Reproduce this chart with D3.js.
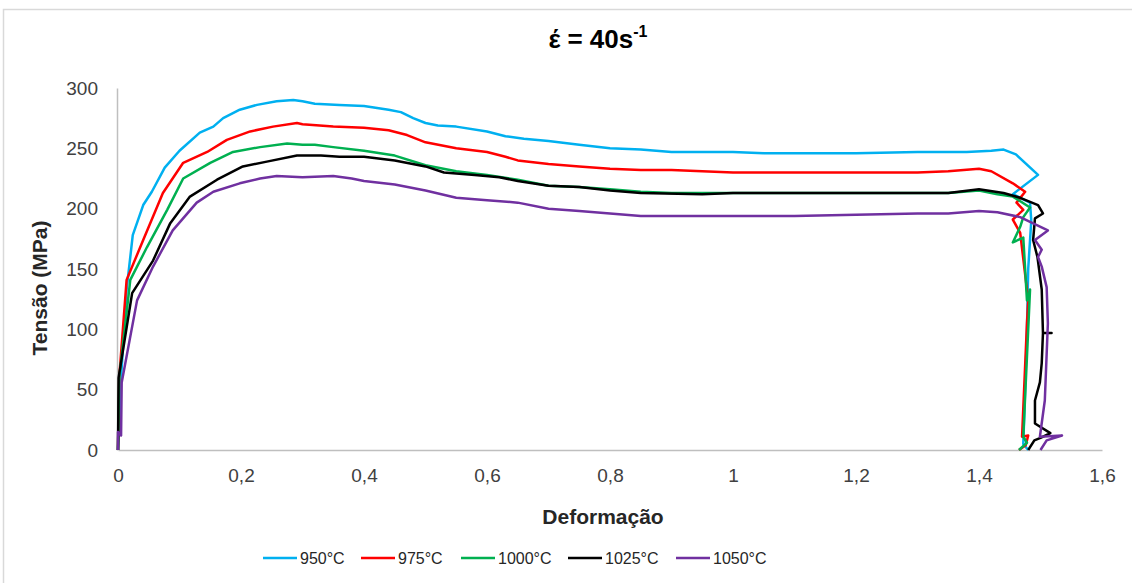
<!DOCTYPE html>
<html>
<head>
<meta charset="utf-8">
<script src="https://cdn.jsdelivr.net/npm/d3@7"></script>
<style>
  body { margin: 0; background: #fff; }
  text { font-family: "Liberation Sans", Arial, sans-serif; }
</style>
</head>
<body>
<script>
const width = 1132;
const height = 583;

const seriesNames = ["950°C", "975°C", "1000°C", "1025°C", "1050°C"];
const seriesColors = ["#00B0F0", "#FF0000", "#00B050", "#000000", "#7030A0"];
const xTicks = [0, 0.2, 0.4, 0.6, 0.8, 1, 1.2, 1.4, 1.6];
const yTicks = [0, 50, 100, 150, 200, 250, 300];

// strain / stress pairs
const s950 = [[0,0],[0.005,60],[0.014,133],[0.024,178],[0.041,203],[0.055,214],[0.076,234],[0.1,248],[0.133,263],[0.155,268],[0.171,275],[0.198,282],[0.226,286],[0.258,289],[0.285,290],[0.3,289],[0.32,287],[0.36,286],[0.4,285],[0.44,282],[0.46,280],[0.48,275],[0.5,271],[0.52,269],[0.55,268],[0.6,264],[0.63,260],[0.66,258],[0.7,256],[0.75,253],[0.8,250],[0.85,249],[0.9,247],[1.0,247],[1.05,246],[1.2,246],[1.3,247],[1.38,247],[1.42,248],[1.44,249],[1.46,245],[1.496,228],[1.455,212],[1.483,205],[1.485,190],[1.48,150],[1.478,100],[1.475,50],[1.472,5],[1.48,0]];
const s975 = [[0,0],[0.002,60],[0.014,141],[0.041,174],[0.073,213],[0.106,238],[0.145,247],[0.177,257],[0.215,264],[0.252,268],[0.291,271],[0.3,270],[0.35,268],[0.4,267],[0.44,265],[0.47,261],[0.5,255],[0.55,250],[0.6,247],[0.63,243],[0.65,240],[0.7,237],[0.75,235],[0.8,233],[0.85,232],[0.9,232],[0.95,231],[1.0,230],[1.3,230],[1.35,231],[1.4,233],[1.42,231],[1.455,221],[1.475,214],[1.461,205],[1.472,199],[1.455,191],[1.467,180],[1.48,124],[1.478,105],[1.47,11],[1.48,12],[1.476,4],[1.465,0]];
const s1000 = [[0,0],[0.002,60],[0.02,141],[0.047,168],[0.08,199],[0.106,225],[0.15,238],[0.187,247],[0.231,251],[0.275,254],[0.3,253],[0.32,253],[0.35,251],[0.4,248],[0.45,244],[0.5,236],[0.55,231],[0.6,228],[0.65,224],[0.7,219],[0.75,218],[0.8,216],[0.85,214],[0.9,213],[1.35,213],[1.4,215],[1.43,212],[1.455,210],[1.483,201],[1.472,193],[1.467,185],[1.455,172],[1.472,176],[1.478,124],[1.483,133],[1.472,11],[1.478,6],[1.465,0]];
const s1025 = [[0,0],[0.001,60],[0.023,130],[0.057,157],[0.085,188],[0.117,210],[0.161,224],[0.203,235],[0.242,239],[0.291,244],[0.33,244],[0.36,243],[0.4,243],[0.45,240],[0.5,235],[0.53,230],[0.58,228],[0.62,226],[0.65,223],[0.7,219],[0.75,218],[0.8,215],[0.85,213],[0.95,212],[1.0,213],[1.35,213],[1.4,216],[1.44,213],[1.467,209],[1.496,203],[1.504,196],[1.491,192],[1.488,174],[1.495,160],[1.502,133],[1.504,97],[1.518,97],[1.504,97],[1.502,72],[1.499,56],[1.491,41],[1.491,22],[1.516,14],[1.5,10],[1.49,8],[1.48,0]];
const s1050 = [[0,0],[0,15],[0.005,12],[0.006,56],[0.031,124],[0.057,152],[0.089,182],[0.128,205],[0.155,214],[0.198,221],[0.231,225],[0.258,227],[0.3,226],[0.35,227],[0.38,225],[0.4,223],[0.45,220],[0.5,215],[0.55,209],[0.6,207],[0.65,205],[0.7,200],[0.75,198],[0.8,196],[0.85,194],[1.1,194],[1.2,195],[1.3,196],[1.35,196],[1.4,198],[1.43,197],[1.467,193],[1.483,189],[1.512,182],[1.491,174],[1.502,166],[1.496,160],[1.502,152],[1.51,135],[1.512,105],[1.507,41],[1.499,11],[1.535,12],[1.51,8],[1.5,0]];
const seriesData = [s950, s975, s1000, s1025, s1050];

const svg = d3.select("body").append("svg")
  .attr("width", width)
  .attr("height", height);

// chart frame
svg.append("rect")
  .attr("x", 3.5).attr("y", 9.5)
  .attr("width", width + 10).attr("height", height + 10)
  .attr("fill", "none")
  .attr("stroke", "#d9d9d9")
  .attr("stroke-width", 1.5);

const x = d3.scaleLinear().domain([0, 1.6]).range([118, 1102]);
const y = d3.scaleLinear().domain([0, 300]).range([450, 88]);

// axes
const xAxis = svg.append("g")
  .attr("transform", `translate(0,${y(0)})`)
  .call(d3.axisBottom(x).tickValues(xTicks).tickSize(0).tickPadding(19)
    .tickFormat(d => String(d).replace(".", ",")));
xAxis.select(".domain").attr("stroke", "#bfbfbf").attr("stroke-width", 1.5);
xAxis.selectAll("text").attr("font-size", 19).attr("fill", "#404040")
  .attr("font-family", "Liberation Sans, Arial, sans-serif");

const yAxis = svg.append("g")
  .attr("transform", `translate(${x(0) - 1},0)`)
  .call(d3.axisLeft(y).tickValues(yTicks).tickSize(0).tickPadding(19));
yAxis.select(".domain").attr("stroke", "#bfbfbf").attr("stroke-width", 1.5);
yAxis.selectAll("text").attr("font-size", 19).attr("fill", "#404040")
  .attr("font-family", "Liberation Sans, Arial, sans-serif");

// lines
const line = d3.line().x(d => x(d[0])).y(d => y(d[1]));
svg.selectAll(".serie")
  .data(seriesData)
  .enter()
  .append("path")
    .attr("class", "serie")
    .attr("d", line)
    .attr("fill", "none")
    .attr("stroke", (d, i) => seriesColors[i])
    .attr("stroke-width", 2.5)
    .attr("stroke-linejoin", "round");

// title
const title = svg.append("text")
  .attr("x", 598).attr("y", 48)
  .attr("text-anchor", "middle")
  .attr("font-size", 26)
  .attr("font-weight", "bold")
  .attr("fill", "#000");
title.append("tspan").text("\u03B5\u0301 = 40s");
title.append("tspan").attr("dy", -11).attr("font-size", 16).text("-1");

// axis titles
svg.append("text")
  .attr("x", 603).attr("y", 524)
  .attr("text-anchor", "middle")
  .attr("font-size", 21).attr("font-weight", "bold")
  .attr("fill", "#262626")
  .text("Deformação");

svg.append("text")
  .attr("transform", "translate(47,288) rotate(-90)")
  .attr("text-anchor", "middle")
  .attr("font-size", 21).attr("font-weight", "bold")
  .attr("fill", "#262626")
  .text("Tensão (MPa)");

// legend
const legendX = [263, 361, 461, 568, 676];
const legend = svg.append("g");
const items = legend.selectAll("g")
  .data(seriesNames)
  .enter()
  .append("g")
    .attr("transform", (d, i) => `translate(${legendX[i]},558)`);
items.append("line")
  .attr("x1", 0).attr("x2", 34)
  .attr("stroke", (d, i) => seriesColors[i])
  .attr("stroke-width", 2.5);
items.append("text")
  .attr("x", 37).attr("y", 5.5)
  .attr("font-size", 16)
  .attr("fill", "#262626")
  .text(d => d);
</script>
</body>
</html>
